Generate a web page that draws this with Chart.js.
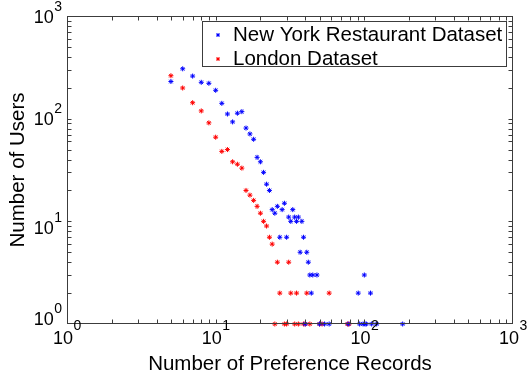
<!DOCTYPE html>
<html>
<head>
<meta charset="utf-8">
<script src="https://cdn.jsdelivr.net/npm/chart.js@4"></script>
<style>
  html, body { margin: 0; padding: 0; background: #fff; }
  #wrap { width: 529px; height: 381px; }
</style>
</head>
<body>
<div id="wrap"><canvas id="chart"></canvas></div>
<script>
// Series data (number of preference records, number of users)
const seriesNames = ['New York Restaurant Dataset', 'London Dataset'];

const nyRecords = [5, 6, 7, 8, 9, 10, 11, 12, 13, 14, 15, 16, 17, 18, 19, 20, 21, 22, 23, 24, 25, 26, 28, 29,
    31, 32, 33, 34, 36, 35, 38, 27, 30, 39, 37, 41, 42, 43, 45, 48, 100, 44, 91, 110,
    40, 50, 54, 58, 78, 93, 98, 101, 103, 112, 121, 181];
const nyUsers = [230, 306, 260, 226, 221, 189, 141, 111, 93, 113, 117, 81, 71, 63, 42, 38, 30, 23, 20, 13, 12, 14, 13, 15,
    11, 10, 13, 11, 11, 10, 10, 7, 7, 7, 5, 5, 4, 3, 3, 3, 3, 2, 2, 2,
    1, 1, 1, 1, 1, 1, 1, 1, 1, 1, 1, 1];

const ldRecords = [5, 6, 7, 8, 9, 10, 11, 12, 13, 14, 15, 16, 17, 18, 19, 20, 21, 22, 23, 24, 26, 31,
    27, 32, 35, 41, 58,
    25, 29, 30, 34, 36, 39, 40, 43, 50, 52, 77, 79];
const ldUsers = [262, 199, 143, 119, 91, 66, 48, 50, 38, 36, 33, 20, 18, 16, 14, 12, 10, 9, 7, 6, 4, 4,
    2, 2, 2, 2, 2,
    1, 1, 1, 1, 1, 1, 1, 1, 1, 1, 1, 1];

const decades = [1, 10, 100, 1000];
const decadeExp = ['0', '1', '2', '3'];

const xTitle = 'Number of Preference Records';
const yTitle = 'Number of Users';

const FONT = 'Arial, "Liberation Sans", Helvetica, sans-serif';

function toPoints(xs, ys) {
    return xs.map((x, i) => ({ x: x, y: ys[i] }));
}

// MATLAB-like frame, inward ticks on all four sides, 10^n labels, legend box
const matlabAxes = {
    id: 'matlabAxes',
    afterDraw(chart) {
        const ctx = chart.ctx;
        const a = chart.chartArea;
        const xs = chart.scales.x;
        const ys = chart.scales.y;
        const L = Math.round(a.left) + 0.5, R = Math.round(a.right) - 0.5;
        const T = Math.round(a.top) + 0.5, B = Math.round(a.bottom) - 0.5;

        ctx.save();
        ctx.strokeStyle = '#3c3c3c';
        ctx.lineWidth = 1;
        ctx.beginPath();
        const tick = 4;
        decades.forEach((d, di) => {
            for (let m = 1; m < 10; m++) {
                const v = d * m;
                if (v > 1000 || (di === 3 && m > 1)) break;
                if (v === 1 || v === 1000) continue;
                const px = Math.round(xs.getPixelForValue(v)) + 0.5;
                ctx.moveTo(px, B); ctx.lineTo(px, B - tick);
                ctx.moveTo(px, T); ctx.lineTo(px, T + tick);
                const py = Math.round(ys.getPixelForValue(v)) + 0.5;
                ctx.moveTo(L, py); ctx.lineTo(L + tick, py);
                ctx.moveTo(R, py); ctx.lineTo(R - tick, py);
            }
        });
        ctx.stroke();
        ctx.strokeRect(L, T, R - L, B - T);

        // tick labels 10^n
        ctx.fillStyle = '#000';
        const base = '18px ' + FONT;
        const sup = '14px ' + FONT;
        ctx.textBaseline = 'alphabetic';
        decades.forEach((d, i) => {
            ctx.font = base;
            const w10 = ctx.measureText('10').width;
            ctx.font = sup;
            const we = ctx.measureText(decadeExp[i]).width;
            // x axis
            const px = xs.getPixelForValue(d);
            const x0 = px - (w10 + we) / 2;
            ctx.textAlign = 'left';
            ctx.font = base;
            ctx.fillText('10', x0, a.bottom + 20);
            ctx.font = sup;
            ctx.fillText(decadeExp[i], x0 + w10 + 0.5, a.bottom + 6);
            // y axis
            const yOff = [1, 13, 6, 7][i];
            const py = ys.getPixelForValue(d) + yOff;
            const xr = a.left - 5;
            ctx.font = sup;
            ctx.fillText(decadeExp[i], xr - we, py - 12);
            ctx.font = base;
            ctx.fillText('10', xr - we - w10 - 0.5, py);
        });

        // legend box
        const lx = a.left + 135, ly = a.top + 5, lw = 304, lh = 45;
        ctx.fillStyle = '#fff';
        ctx.fillRect(lx, ly, lw, lh);
        ctx.strokeStyle = '#3c3c3c';
        ctx.strokeRect(Math.round(lx) + 0.5, Math.round(ly) + 0.5, lw, lh);
        ctx.font = '20.5px ' + FONT;
        ctx.textBaseline = 'middle';
        chart.data.datasets.forEach((ds, i) => {
            const cy = ly + 14 + i * 24;
            ctx.fillStyle = '#000';
            ctx.fillText(ds.label, lx + 31, cy);
            ctx.strokeStyle = ds.borderColor;
            ctx.beginPath();
            const r = 2;
            const cx = lx + 16;
            ctx.moveTo(cx - r, cy); ctx.lineTo(cx + r, cy);
            ctx.moveTo(cx, cy - r); ctx.lineTo(cx, cy + r);
            ctx.moveTo(cx - 1.5, cy - 1.5); ctx.lineTo(cx + 1.5, cy + 1.5);
            ctx.moveTo(cx - 1.5, cy + 1.5); ctx.lineTo(cx + 1.5, cy - 1.5);
            ctx.stroke();
        });
        ctx.restore();
    }
};

document.addEventListener('DOMContentLoaded', function() {
    const ctx = document.getElementById('chart');
    new Chart(ctx, {
        type: 'scatter',
        data: {
            datasets: [{
                label: seriesNames[0],
                data: toPoints(nyRecords, nyUsers),
                borderColor: '#0000ff',
                backgroundColor: '#0000ff',
                pointStyle: 'star',
                pointRadius: 2.5,
                borderWidth: 1
            }, {
                label: seriesNames[1],
                data: toPoints(ldRecords, ldUsers),
                borderColor: '#ff0000',
                backgroundColor: '#ff0000',
                pointStyle: 'star',
                pointRadius: 2.5,
                borderWidth: 1
            }]
        },
        options: {
            responsive: true,
            maintainAspectRatio: false,
            animation: false,
            clip: false,
            layout: { padding: { top: 16, right: 16, left: 0, bottom: 0 } },
            plugins: {
                legend: { display: false },
                tooltip: { enabled: false }
            },
            scales: {
                x: {
                    type: 'logarithmic',
                    min: 1,
                    max: 1000,
                    grid: { display: false, drawTicks: false },
                    border: { display: false },
                    ticks: { display: false },
                    title: {
                        display: true,
                        text: xTitle,
                        color: '#000',
                        font: { family: FONT, size: 20.5 },
                        padding: { top: 27.7, bottom: 4.7 }
                    }
                },
                y: {
                    type: 'logarithmic',
                    min: 1,
                    max: 1000,
                    grid: { display: false, drawTicks: false },
                    border: { display: false },
                    ticks: { display: false },
                    title: {
                        display: true,
                        text: yTitle,
                        color: '#000',
                        font: { family: FONT, size: 20.5 },
                        padding: { top: 5.7, bottom: 36.7 }
                    }
                }
            }
        },
        plugins: [matlabAxes]
    });
});
</script>
</body>
</html>
